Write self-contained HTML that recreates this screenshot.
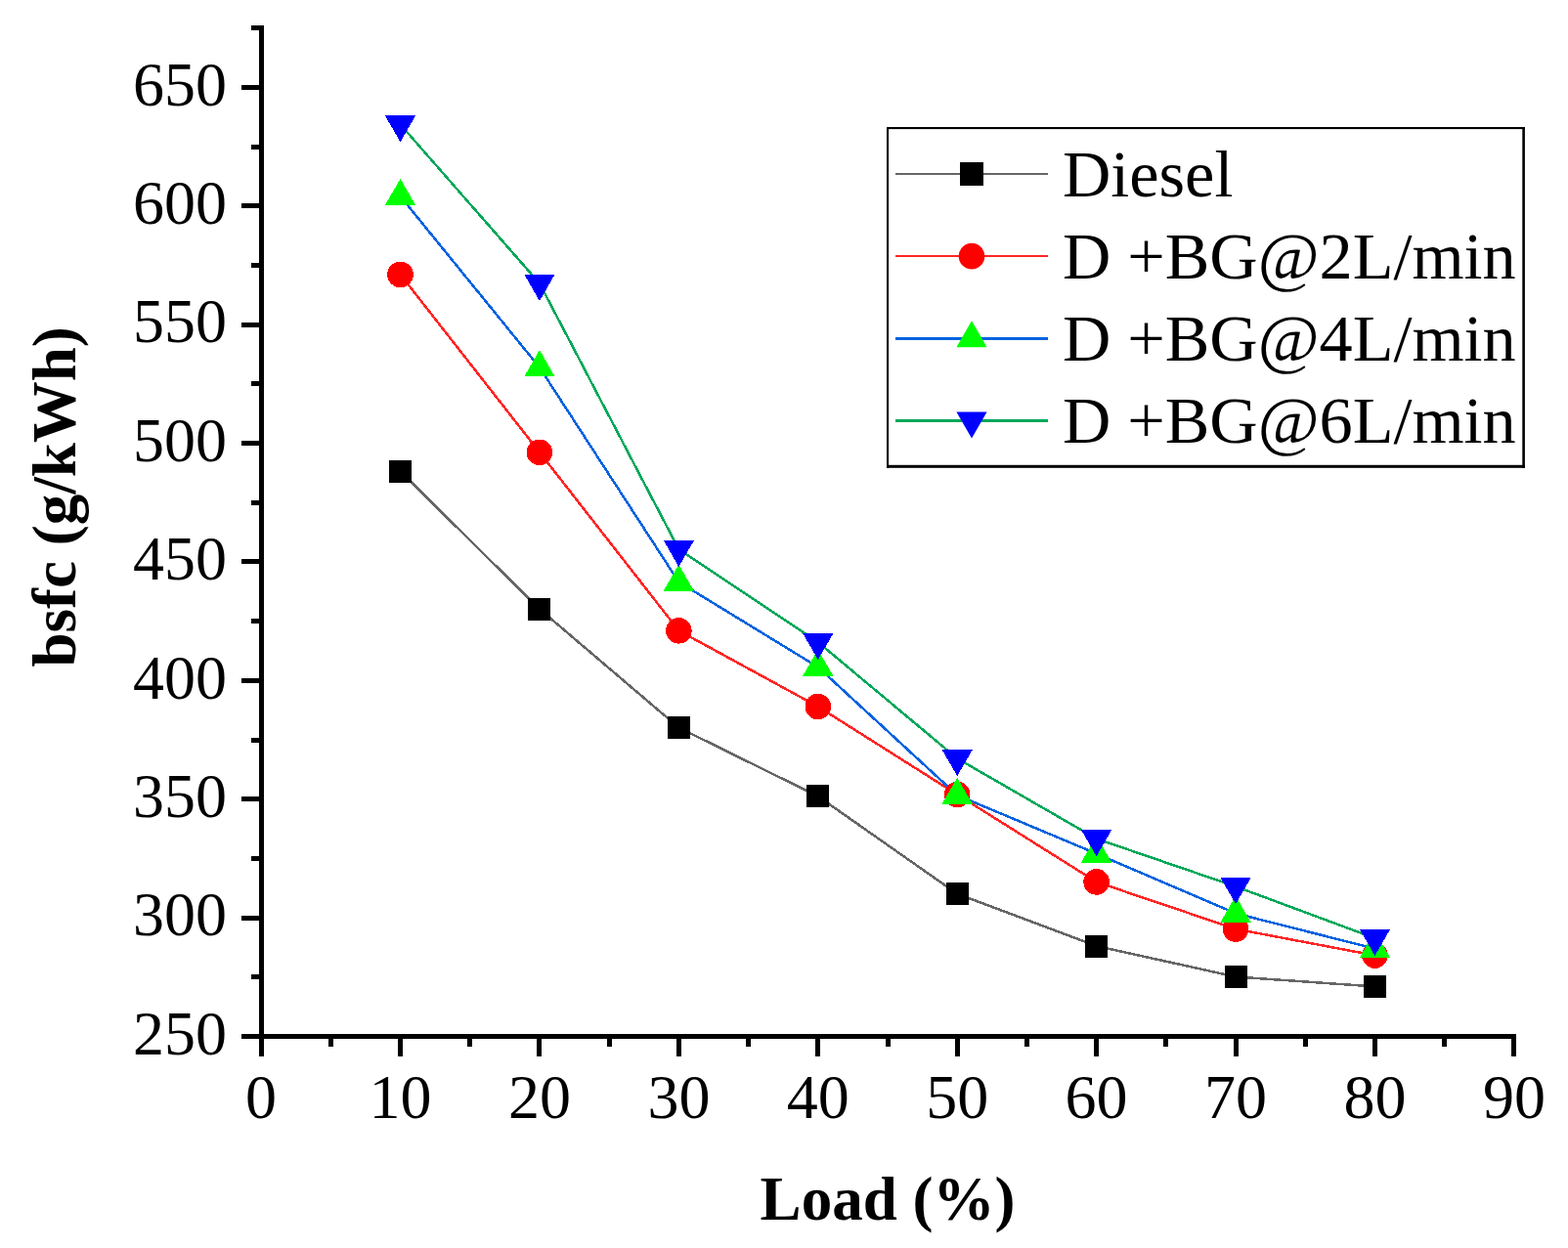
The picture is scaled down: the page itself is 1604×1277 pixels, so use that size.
<!DOCTYPE html>
<html><head><meta charset="utf-8"><title>bsfc vs Load</title>
<style>
html,body{margin:0;padding:0;background:#fff;}
body{width:1604px;height:1277px;overflow:hidden;}
svg{display:block;}
text{font-family:"Liberation Serif","Times New Roman",serif;fill:#000;}
</style></head><body>
<svg width="1604" height="1277" viewBox="0 0 1604 1277">
<rect width="1604" height="1277" fill="#fff"/>
<g fill="#000" shape-rendering="crispEdges">
<rect x="265" y="26" width="5" height="1037"/>
<rect x="265" y="1058" width="1286" height="5"/>
<rect x="247" y="1057.9" width="18" height="5"/>
<rect x="257" y="997.2" width="8" height="5"/>
<rect x="247" y="936.5" width="18" height="5"/>
<rect x="257" y="875.8" width="8" height="5"/>
<rect x="247" y="815.2" width="18" height="5"/>
<rect x="257" y="754.5" width="8" height="5"/>
<rect x="247" y="693.8" width="18" height="5"/>
<rect x="257" y="633.1" width="8" height="5"/>
<rect x="247" y="572.4" width="18" height="5"/>
<rect x="257" y="511.7" width="8" height="5"/>
<rect x="247" y="451.0" width="18" height="5"/>
<rect x="257" y="390.3" width="8" height="5"/>
<rect x="247" y="329.6" width="18" height="5"/>
<rect x="257" y="269.0" width="8" height="5"/>
<rect x="247" y="208.3" width="18" height="5"/>
<rect x="257" y="147.6" width="8" height="5"/>
<rect x="247" y="86.9" width="18" height="5"/>
<rect x="257" y="26.2" width="8" height="5"/>
<rect x="264.6" y="1063" width="5" height="18"/>
<rect x="335.8" y="1063" width="5" height="8"/>
<rect x="407.0" y="1063" width="5" height="18"/>
<rect x="478.2" y="1063" width="5" height="8"/>
<rect x="549.4" y="1063" width="5" height="18"/>
<rect x="620.7" y="1063" width="5" height="8"/>
<rect x="691.9" y="1063" width="5" height="18"/>
<rect x="763.1" y="1063" width="5" height="8"/>
<rect x="834.3" y="1063" width="5" height="18"/>
<rect x="905.5" y="1063" width="5" height="8"/>
<rect x="976.7" y="1063" width="5" height="18"/>
<rect x="1047.9" y="1063" width="5" height="8"/>
<rect x="1119.1" y="1063" width="5" height="18"/>
<rect x="1190.3" y="1063" width="5" height="8"/>
<rect x="1261.6" y="1063" width="5" height="18"/>
<rect x="1332.8" y="1063" width="5" height="8"/>
<rect x="1404.0" y="1063" width="5" height="18"/>
<rect x="1475.2" y="1063" width="5" height="8"/>
<rect x="1546.4" y="1063" width="5" height="18"/>
</g>
<g font-size="64" text-anchor="middle">
<text x="267.1" y="1143.5">0</text>
<text x="409.5" y="1143.5">10</text>
<text x="551.9" y="1143.5">20</text>
<text x="694.4" y="1143.5">30</text>
<text x="836.8" y="1143.5">40</text>
<text x="979.2" y="1143.5">50</text>
<text x="1121.6" y="1143.5">60</text>
<text x="1264.1" y="1143.5">70</text>
<text x="1406.5" y="1143.5">80</text>
<text x="1548.9" y="1143.5">90</text>
</g>
<g font-size="64" text-anchor="end">
<text x="232" y="1078.6">250</text>
<text x="232" y="957.2">300</text>
<text x="232" y="835.9">350</text>
<text x="232" y="714.5">400</text>
<text x="232" y="593.1">450</text>
<text x="232" y="471.7">500</text>
<text x="232" y="350.3">550</text>
<text x="232" y="229.0">600</text>
<text x="232" y="107.6">650</text>
</g>
<text x="908" y="1247.7" font-size="63" font-weight="bold" text-anchor="middle">Load (%)</text>
<text transform="translate(76.5,508.3) rotate(-90)" font-size="63" font-weight="bold" text-anchor="middle">bsfc (g/kWh)</text>
<polyline points="409.52,482.40 551.94,623.20 694.37,744.50 836.79,814.80 979.21,914.60 1121.63,968.00 1264.06,999.50 1406.48,1009.50" fill="none" stroke="#666666" stroke-width="2.5" stroke-linejoin="round" shape-rendering="crispEdges"/>
<polyline points="409.52,280.90 551.94,462.80 694.37,645.30 836.79,723.00 979.21,813.00 1121.63,902.40 1264.06,950.60 1406.48,977.60" fill="none" stroke="#FF2626" stroke-width="2.5" stroke-linejoin="round" shape-rendering="crispEdges"/>
<polyline points="409.52,200.90 551.94,376.00 694.37,595.50 836.79,682.60 979.21,813.70 1121.63,873.50 1264.06,934.60 1406.48,970.70" fill="none" stroke="#0063E0" stroke-width="2.5" stroke-linejoin="round" shape-rendering="crispEdges"/>
<polyline points="409.52,127.30 551.94,290.00 694.37,562.00 836.79,657.10 979.21,776.10 1121.63,858.20 1264.06,907.10 1406.48,960.00" fill="none" stroke="#00A85A" stroke-width="2.5" stroke-linejoin="round" shape-rendering="crispEdges"/>
<g shape-rendering="crispEdges">
<rect x="398.02" y="470.90" width="23" height="23" fill="#000"/>
<rect x="540.44" y="611.70" width="23" height="23" fill="#000"/>
<rect x="682.87" y="733.00" width="23" height="23" fill="#000"/>
<rect x="825.29" y="803.30" width="23" height="23" fill="#000"/>
<rect x="967.71" y="903.10" width="23" height="23" fill="#000"/>
<rect x="1110.13" y="956.50" width="23" height="23" fill="#000"/>
<rect x="1252.56" y="988.00" width="23" height="23" fill="#000"/>
<rect x="1394.98" y="998.00" width="23" height="23" fill="#000"/>
<circle cx="409.52" cy="280.90" r="13.3" fill="#FF0000"/>
<circle cx="551.94" cy="462.80" r="13.3" fill="#FF0000"/>
<circle cx="694.37" cy="645.30" r="13.3" fill="#FF0000"/>
<circle cx="836.79" cy="723.00" r="13.3" fill="#FF0000"/>
<circle cx="979.21" cy="813.00" r="13.3" fill="#FF0000"/>
<circle cx="1121.63" cy="902.40" r="13.3" fill="#FF0000"/>
<circle cx="1264.06" cy="950.60" r="13.3" fill="#FF0000"/>
<circle cx="1406.48" cy="977.60" r="13.3" fill="#FF0000"/>
<polygon points="409.52,182.90 425.11,209.90 393.93,209.90" fill="#00FF00"/>
<polygon points="551.94,358.00 567.53,385.00 536.36,385.00" fill="#00FF00"/>
<polygon points="694.37,577.50 709.96,604.50 678.78,604.50" fill="#00FF00"/>
<polygon points="836.79,664.60 852.38,691.60 821.20,691.60" fill="#00FF00"/>
<polygon points="979.21,795.70 994.80,822.70 963.62,822.70" fill="#00FF00"/>
<polygon points="1121.63,855.50 1137.22,882.50 1106.04,882.50" fill="#00FF00"/>
<polygon points="1264.06,916.60 1279.64,943.60 1248.47,943.60" fill="#00FF00"/>
<polygon points="1406.48,952.70 1422.07,979.70 1390.89,979.70" fill="#00FF00"/>
<polygon points="409.52,145.30 425.11,118.30 393.93,118.30" fill="#0000FF"/>
<polygon points="551.94,308.00 567.53,281.00 536.36,281.00" fill="#0000FF"/>
<polygon points="694.37,580.00 709.96,553.00 678.78,553.00" fill="#0000FF"/>
<polygon points="836.79,675.10 852.38,648.10 821.20,648.10" fill="#0000FF"/>
<polygon points="979.21,794.10 994.80,767.10 963.62,767.10" fill="#0000FF"/>
<polygon points="1121.63,876.20 1137.22,849.20 1106.04,849.20" fill="#0000FF"/>
<polygon points="1264.06,925.10 1279.64,898.10 1248.47,898.10" fill="#0000FF"/>
<polygon points="1406.48,978.00 1422.07,951.00 1390.89,951.00" fill="#0000FF"/>
</g>
<g fill="#000"><rect x="907" y="130" width="653" height="2.1"/><rect x="907" y="475.8" width="653" height="3"/><rect x="907" y="130" width="2.1" height="348.8"/><rect x="1557.3" y="130" width="2.6" height="348.8"/></g>
<rect x="916" y="177.0" width="156" height="2" fill="#666666"/>
<rect x="982.00" y="166.00" width="24" height="24" fill="#000"/>
<text x="1086.9" y="200.6" font-size="68.3">Diesel</text>
<rect x="916" y="261.0" width="156" height="2" fill="#FF2626"/>
<circle cx="994.00" cy="262.17" r="13.3" fill="#FF0000"/>
<text x="1086.9" y="284.8" font-size="68.3">D +BG@2L/min</text>
<rect x="916" y="345.0" width="156" height="3" fill="#0063E0"/>
<polygon points="994.00,328.34 1009.59,355.34 978.41,355.34" fill="#00FF00"/>
<text x="1086.9" y="368.9" font-size="68.3">D +BG@4L/min</text>
<rect x="916" y="429.0" width="156" height="3" fill="#00A85A"/>
<polygon points="994.00,448.51 1009.59,421.51 978.41,421.51" fill="#0000FF"/>
<text x="1086.9" y="453.1" font-size="68.3">D +BG@6L/min</text>
</svg></body></html>
